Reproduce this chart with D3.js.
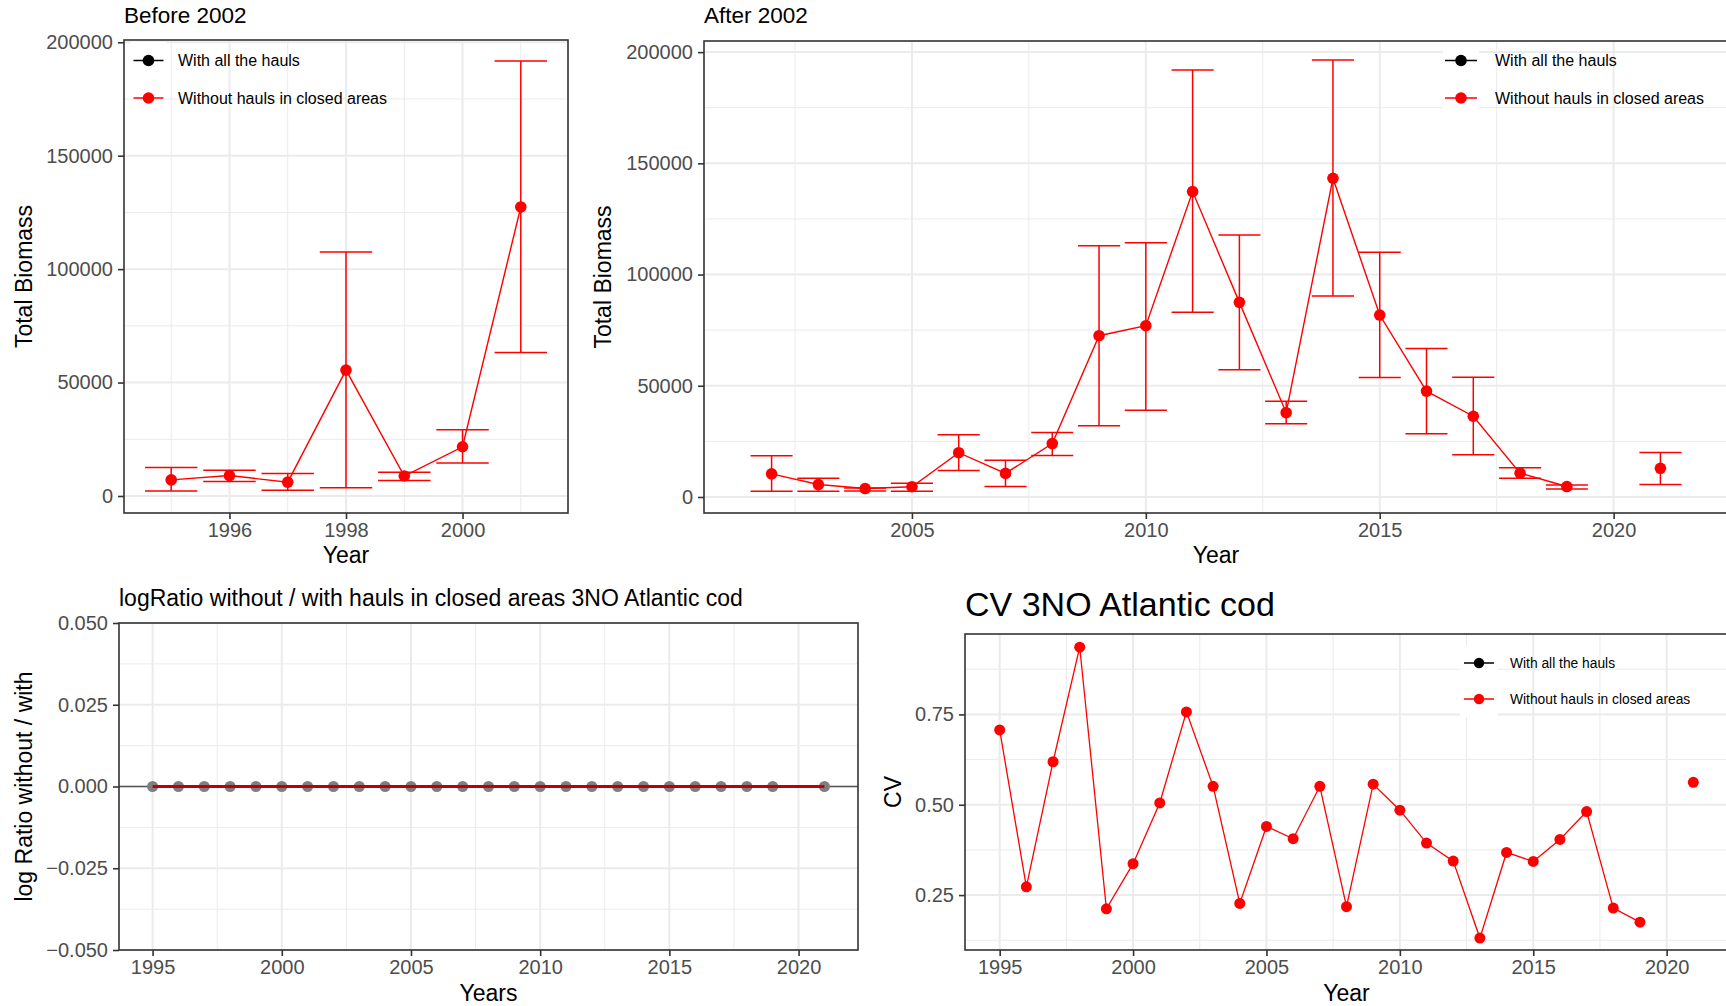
<!DOCTYPE html>
<html>
<head>
<meta charset="utf-8">
<script src="https://cdn.jsdelivr.net/npm/d3@7"></script>
<style>
    body { margin: 0; background: #fff; }
    svg { display: block; font-family: "Liberation Sans", Arial, sans-serif; }
    .grid-major { stroke: #EBEBEB; stroke-width: 2; }
    .grid-minor { stroke: #EBEBEB; stroke-width: 1; }
    .frame { fill: none; stroke: #333333; stroke-width: 1.6; }
    .axis path { display: none; }
    .axis line { stroke: #333333; stroke-width: 1.6; }
    .axis text { fill: #4D4D4D; font-size: 20px; font-family: "Liberation Sans", Arial, sans-serif; }
    .title { fill: #000; }
</style>
</head>
<body>
<div id="chart"></div>
<script>

// ---- Before 2002: total biomass with error bars
const beforeYears   = [1995, 1996, 1997, 1998, 1999, 2000, 2001];
const beforeBiomass = [7100, 9000, 6100, 55500, 8800, 21700, 127400];
const beforeLower   = [2200, 6400, 2500, 3600, 6800, 14500, 63200];
const beforeUpper   = [12600, 11300, 9900, 107500, 10500, 29200, 191700];

// ---- After 2002 (no survey in 2020)
const afterYears   = [2002, 2003, 2004, 2005, 2006, 2007, 2008, 2009, 2010, 2011,
                      2012, 2013, 2014, 2015, 2016, 2017, 2018, 2019, 2021];
const afterBiomass = [10400, 5600, 3800, 4600, 19900, 10600, 24000, 72500, 77000, 137300,
                      87500, 37900, 143300, 81800, 47600, 36300, 10700, 4700, 12900];
const afterLower   = [2600, 2600, 2700, 2600, 11900, 4700, 18600, 32000, 39000, 83000,
                      57200, 32900, 90400, 53700, 28400, 19000, 8400, 3600, 5600];
const afterUpper   = [18500, 8400, 4000, 6200, 28000, 16500, 29000, 113000, 114300, 192000,
                      117800, 43000, 196500, 110000, 66800, 53800, 13100, 5400, 20000];

// ---- log ratio without / with
const ratioYears  = [1995, 1996, 1997, 1998, 1999, 2000, 2001, 2002, 2003, 2004, 2005, 2006, 2007,
                     2008, 2009, 2010, 2011, 2012, 2013, 2014, 2015, 2016, 2017, 2018, 2019, 2021];
const ratioValues = [0, 0, 0, 0, 0, 0, 0, 0, 0, 0, 0, 0, 0, 0, 0, 0, 0, 0, 0, 0, 0, 0, 0, 0, 0, 0];

// ---- CV
const cvYears  = ratioYears;
const cvValues = [0.707, 0.273, 0.619, 0.936, 0.212, 0.337, 0.505, 0.757, 0.551, 0.227, 0.440, 0.406, 0.551,
                  0.218, 0.557, 0.485, 0.394, 0.344, 0.131, 0.368, 0.343, 0.404, 0.481, 0.214, 0.175, 0.562];

const legendLabels = ["With all the hauls", "Without hauls in closed areas"];
const legendColors = ["#000000", "#FF0000"];

const RED = "#FF0000";
const W = 1726, H = 1006;

const svg = d3.select("#chart").append("svg")
    .attr("width", W)
    .attr("height", H);

svg.append("rect").attr("width", W).attr("height", H).attr("fill", "#fff");

function range(a, b, step) {
    let out = [];
    for (let v = a; v <= b + 1e-9; v += step) out.push(+v.toFixed(6));
    return out;
}

// one ggplot-like panel (theme_bw)
function makePanel(cfg) {
    let p = {};
    p.x = d3.scaleLinear().domain(cfg.xDomain).range(cfg.xRange);
    p.y = d3.scaleLinear().domain(cfg.yDomain).range(cfg.yRange);
    p.g = svg.append("g");

    let x0 = cfg.xRange[0], x1 = cfg.xRange[1];
    let yb = cfg.yRange[0], yt = cfg.yRange[1];

    p.g.selectAll(".gxm").data(cfg.xMinor).join("line")
        .attr("class", "grid-minor")
        .attr("x1", d => p.x(d)).attr("x2", d => p.x(d))
        .attr("y1", yb).attr("y2", yt);
    p.g.selectAll(".gym").data(cfg.yMinor).join("line")
        .attr("class", "grid-minor")
        .attr("x1", x0).attr("x2", x1)
        .attr("y1", d => p.y(d)).attr("y2", d => p.y(d));
    p.g.selectAll(".gxM").data(cfg.xTicks).join("line")
        .attr("class", "grid-major")
        .attr("x1", d => p.x(d)).attr("x2", d => p.x(d))
        .attr("y1", yb).attr("y2", yt);
    p.g.selectAll(".gyM").data(cfg.yTicks).join("line")
        .attr("class", "grid-major")
        .attr("x1", x0).attr("x2", x1)
        .attr("y1", d => p.y(d)).attr("y2", d => p.y(d));

    p.g.append("g")
        .attr("class", "axis")
        .attr("transform", "translate(0," + yb + ")")
        .call(d3.axisBottom(p.x).tickValues(cfg.xTicks).tickSize(6).tickPadding(4)
            .tickFormat(d3.format("d")));

    p.g.append("g")
        .attr("class", "axis")
        .attr("transform", "translate(" + x0 + ",0)")
        .call(d3.axisLeft(p.y).tickValues(cfg.yTicks).tickSize(6).tickPadding(5)
            .tickFormat(cfg.yFormat));

    p.data = p.g.append("g");

    // axis titles
    p.g.append("text")
        .attr("class", "title")
        .attr("x", (x0 + x1) / 2)
        .attr("y", cfg.xTitleY)
        .attr("text-anchor", "middle")
        .attr("font-size", 23)
        .text(cfg.xTitle);

    p.g.append("text")
        .attr("class", "title")
        .attr("transform", "translate(" + cfg.yTitleX + "," + (yb + yt) / 2 + ") rotate(-90)")
        .attr("text-anchor", "middle")
        .attr("font-size", 23)
        .text(cfg.yTitle);

    p.g.append("text")
        .attr("class", "title")
        .attr("x", x0)
        .attr("y", cfg.titleY)
        .attr("font-size", cfg.titleSize)
        .text(cfg.title);

    p.frame = function() {
        p.g.append("rect")
            .attr("class", "frame")
            .attr("x", x0).attr("y", yt)
            .attr("width", x1 - x0).attr("height", yb - yt);
    };
    return p;
}

// split a series into runs of consecutive years (gap -> break in line)
function runs(years, values) {
    let out = [], cur = [];
    years.forEach((yr, i) => {
        if (cur.length && yr - cur[cur.length - 1].year > 1) { out.push(cur); cur = []; }
        cur.push({ year: yr, value: values[i] });
    });
    if (cur.length) out.push(cur);
    return out;
}

function drawErrorSeries(p, years, mid, lo, hi) {
    let capHalf = 0.45;
    let rows = years.map((yr, i) => ({ year: yr, value: mid[i], lo: lo[i], hi: hi[i] }));

    p.data.selectAll(".eb").data(rows).join("line")
        .attr("stroke", RED).attr("stroke-width", 1.5)
        .attr("x1", d => p.x(d.year)).attr("x2", d => p.x(d.year))
        .attr("y1", d => p.y(d.lo)).attr("y2", d => p.y(d.hi));
    p.data.selectAll(".capHi").data(rows).join("line")
        .attr("stroke", RED).attr("stroke-width", 1.5)
        .attr("x1", d => p.x(d.year - capHalf)).attr("x2", d => p.x(d.year + capHalf))
        .attr("y1", d => p.y(d.hi)).attr("y2", d => p.y(d.hi));
    p.data.selectAll(".capLo").data(rows).join("line")
        .attr("stroke", RED).attr("stroke-width", 1.5)
        .attr("x1", d => p.x(d.year - capHalf)).attr("x2", d => p.x(d.year + capHalf))
        .attr("y1", d => p.y(d.lo)).attr("y2", d => p.y(d.lo));

    let line = d3.line().x(d => p.x(d.year)).y(d => p.y(d.value));
    p.data.selectAll(".ln").data(runs(years, mid)).join("path")
        .attr("fill", "none").attr("stroke", RED).attr("stroke-width", 1.4)
        .attr("d", line);

    p.data.selectAll(".pt").data(rows).join("circle")
        .attr("fill", RED)
        .attr("cx", d => p.x(d.year)).attr("cy", d => p.y(d.value))
        .attr("r", 5.8);
}

function drawLegend(parent, cfg) {
    let lg = parent.append("g").attr("transform", "translate(" + cfg.x + "," + cfg.y + ")");
    legendLabels.forEach((lab, i) => {
        let row = lg.append("g").attr("transform", "translate(0," + i * cfg.step + ")");
        row.append("rect")
            .attr("x", -cfg.keyW / 2).attr("y", -cfg.step / 2)
            .attr("width", cfg.keyW).attr("height", cfg.step)
            .attr("fill", "#fff");
        row.append("line")
            .attr("x1", -cfg.lineW / 2).attr("x2", cfg.lineW / 2)
            .attr("stroke", legendColors[i]).attr("stroke-width", 1.5);
        row.append("circle").attr("r", cfg.r).attr("fill", legendColors[i]);
        row.append("text")
            .attr("x", cfg.textDx).attr("y", 0).attr("dy", "0.35em")
            .attr("font-size", cfg.fontSize)
            .attr("fill", "#000")
            .text(lab);
    });
}

let fmtInt = d3.format("d");

// ---------- Panel 1: Before 2002
let p1 = makePanel({
    xDomain: [1994.19, 2001.81], xRange: [124, 568],
    yDomain: [-7500, 201000], yRange: [513, 40],
    xTicks: [1996, 1998, 2000], xMinor: [1995, 1997, 1999, 2001],
    yTicks: range(0, 200000, 50000), yMinor: range(25000, 175000, 50000),
    yFormat: fmtInt,
    xTitle: "Year", xTitleY: 563,
    yTitle: "Total Biomass", yTitleX: 32,
    title: "Before 2002", titleY: 23, titleSize: 22.5
});
drawErrorSeries(p1, beforeYears, beforeBiomass, beforeLower, beforeUpper);
drawLegend(p1.g, { x: 148.5, y: 60.5, step: 37.5, keyW: 36, lineW: 30, r: 5.8, textDx: 29.5, fontSize: 16 });
p1.frame();

// ---------- Panel 2: After 2002
let p2 = makePanel({
    xDomain: [2000.555, 2022.445], xRange: [704, 1728],
    yDomain: [-7200, 205000], yRange: [513, 41],
    xTicks: [2005, 2010, 2015, 2020], xMinor: [2002.5, 2007.5, 2012.5, 2017.5],
    yTicks: range(0, 200000, 50000), yMinor: range(25000, 175000, 50000),
    yFormat: fmtInt,
    xTitle: "Year", xTitleY: 563,
    yTitle: "Total Biomass", yTitleX: 611,
    title: "After 2002", titleY: 23, titleSize: 22.5
});
drawErrorSeries(p2, afterYears, afterBiomass, afterLower, afterUpper);
drawLegend(p2.g, { x: 1461, y: 60.5, step: 37.5, keyW: 36, lineW: 32, r: 5.8, textDx: 34, fontSize: 16 });
p2.frame();

// ---------- Panel 3: log ratio
let p3 = makePanel({
    xDomain: [1993.7, 2022.3], xRange: [119, 858],
    yDomain: [-0.05, 0.05], yRange: [950, 623],
    xTicks: range(1995, 2020, 5), xMinor: range(1997.5, 2017.5, 5),
    yTicks: [-0.05, -0.025, 0, 0.025, 0.05], yMinor: [-0.0375, -0.0125, 0.0125, 0.0375],
    yFormat: d3.format(".3f"),
    xTitle: "Years", xTitleY: 1001,
    yTitle: "log Ratio without / with", yTitleX: 32,
    title: "logRatio without / with hauls in closed areas 3NO Atlantic cod", titleY: 606, titleSize: 23
});
p3.data.append("line")
    .attr("x1", 119).attr("x2", 858)
    .attr("y1", p3.y(0)).attr("y2", p3.y(0))
    .attr("stroke", "#555").attr("stroke-width", 1.5);
let ratioRows = ratioYears.map((yr, i) => ({ year: yr, value: ratioValues[i] }));
p3.data.selectAll(".pt").data(ratioRows).join("circle")
    .attr("fill", "#7F7F7F")
    .attr("cx", d => p3.x(d.year)).attr("cy", d => p3.y(d.value))
    .attr("r", 5.5);
p3.data.append("path")
    .datum(ratioRows)
    .attr("fill", "none").attr("stroke", "#C00000").attr("stroke-width", 3)
    .attr("d", d3.line().x(d => p3.x(d.year)).y(d => p3.y(d.value)));
p3.frame();

// ---------- Panel 4: CV
let p4 = makePanel({
    xDomain: [1993.7, 2022.3], xRange: [965, 1728],
    yDomain: [0.098, 0.9726], yRange: [950, 634],
    xTicks: range(1995, 2020, 5), xMinor: range(1997.5, 2017.5, 5),
    yTicks: [0.25, 0.5, 0.75], yMinor: [0.125, 0.375, 0.625, 0.875],
    yFormat: d3.format(".2f"),
    xTitle: "Year", xTitleY: 1001,
    yTitle: "CV", yTitleX: 901,
    title: "CV 3NO Atlantic cod", titleY: 616, titleSize: 34
});
let cvLine = d3.line().x(d => p4.x(d.year)).y(d => p4.y(d.value));
p4.data.selectAll(".ln").data(runs(cvYears, cvValues)).join("path")
    .attr("fill", "none").attr("stroke", RED).attr("stroke-width", 1.3)
    .attr("d", cvLine);
p4.data.selectAll(".pt").data(cvYears.map((yr, i) => ({ year: yr, value: cvValues[i] }))).join("circle")
    .attr("fill", RED)
    .attr("cx", d => p4.x(d.year)).attr("cy", d => p4.y(d.value))
    .attr("r", 5.5);
drawLegend(p4.g, { x: 1479, y: 663, step: 36, keyW: 38, lineW: 30, r: 5.2, textDx: 31, fontSize: 13.8 });
p4.frame();

</script>
</body>
</html>
